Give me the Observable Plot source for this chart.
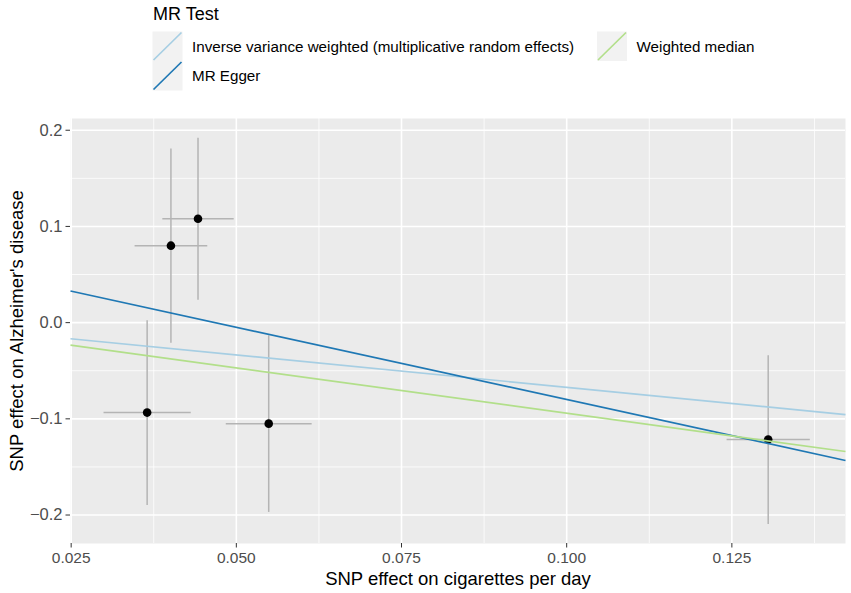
<!DOCTYPE html>
<html>
<head>
<meta charset="utf-8">
<script src="https://cdn.jsdelivr.net/npm/d3@7"></script>
<script src="https://cdn.jsdelivr.net/npm/@observablehq/plot@0.6"></script>
<style>
  html, body { margin: 0; padding: 0; background: #fff; }
  #chart { width: 851px; height: 593px; position: relative; font-family: "Liberation Sans", Arial, sans-serif; }
  #chart svg { display: block; }
</style>
</head>
<body>
<div id="chart"></div>
<script>
// ---- data ----
const snpX   = [0.0365, 0.0401, 0.0442, 0.0549, 0.1305];
const snpY   = [-0.0935, 0.0800, 0.1080, -0.1050, -0.1215];
const snpXse = [0.0066, 0.0055, 0.0054, 0.0065, 0.0063];
const snpYse = [0.0960, 0.1010, 0.0843, 0.0918, 0.0877];

const methods    = ["Inverse variance weighted (multiplicative random effects)", "MR Egger", "Weighted median"];
const slopes     = [-0.672, -1.502, -0.942];
const intercepts = [0, 0.0703, 0];
const methodColors = ["#a6cee3", "#1f78b4", "#b2df8a"];

const xTicks = [0.025, 0.050, 0.075, 0.100, 0.125];
const xMinor = [0.0375, 0.0625, 0.0875, 0.1125, 0.1375];
const yTicks = [-0.2, -0.1, 0.0, 0.1, 0.2];
const yMinor = [-0.15, -0.05, 0.05, 0.15];
const xDomain = [0.0249, 0.1422];
const yDomain = [-0.2296, 0.2122];

const xTitle = "SNP effect on cigarettes per day";
const yTitle = "SNP effect on Alzheimer's disease";
const legendTitle = "MR Test";

// ---- tables ----
const points = snpX.map((x, i) => ({x, y: snpY[i], xse: snpXse[i], yse: snpYse[i]}));
const lineRows = methods.map((m, i) => ({
  method: m,
  x1: xDomain[0], x2: xDomain[1],
  y1: intercepts[i] + slopes[i] * xDomain[0],
  y2: intercepts[i] + slopes[i] * xDomain[1],
  color: methodColors[i]
}));

const root = document.getElementById("chart");
const FONT = '"Liberation Sans", Arial, sans-serif';
const fmtX = d3.format(".3f");
const fmtY = d3.format(".1f");

// ---- legend (above the plot) ----
const leg = d3.create("svg").attr("width", 851).attr("height", 100)
  .style("font-family", FONT);
leg.append("text").attr("x", 153).attr("y", 20).attr("font-size", 18)
  .attr("fill", "black").text(legendTitle);
const keyPos = [[152.5, 31.5], [152.5, 61], [597, 31.5]];
const keyW = 30, keyH = 29.5;
methods.forEach((m, i) => {
  const [kx, ky] = keyPos[i];
  leg.append("rect").attr("x", kx).attr("y", ky).attr("width", keyW).attr("height", keyH)
    .attr("fill", "#f2f2f2");
  leg.append("line").attr("x1", kx + 1).attr("y1", ky + keyH - 1)
    .attr("x2", kx + keyW - 1).attr("y2", ky + 1)
    .attr("stroke", methodColors[i]).attr("stroke-width", 1.7);
  leg.append("text").attr("x", kx + keyW + 9.5).attr("y", ky + keyH / 2)
    .attr("dy", "0.35em").attr("font-size", 15.2).attr("fill", "black").text(m);
});
root.appendChild(leg.node());

// ---- plot ----
const plot = Plot.plot({
  width: 851,
  height: 493,
  marginTop: 18,
  marginBottom: 50,
  marginLeft: 70,
  marginRight: 6,
  style: {fontFamily: FONT, background: "white", overflow: "visible"},
  x: {domain: xDomain},
  y: {domain: yDomain},
  marks: [
    Plot.frame({fill: "#ebebeb", stroke: null}),
    Plot.ruleX(xMinor, {stroke: "white", strokeWidth: 0.8}),
    Plot.ruleY(yMinor, {stroke: "white", strokeWidth: 0.8}),
    Plot.ruleX(xTicks, {stroke: "white", strokeWidth: 1.6}),
    Plot.ruleY(yTicks, {stroke: "white", strokeWidth: 1.6}),
    Plot.link(points, {x1: "x", x2: "x", y1: d => d.y - d.yse, y2: d => d.y + d.yse,
      stroke: "#b4b4b4", strokeWidth: 1.5}),
    Plot.link(points, {x1: d => d.x - d.xse, x2: d => d.x + d.xse, y1: "y", y2: "y",
      stroke: "#b4b4b4", strokeWidth: 1.5}),
    Plot.dot(points, {x: "x", y: "y", r: 4.3, fill: "black", stroke: null}),
    Plot.link(lineRows, {x1: "x1", y1: "y1", x2: "x2", y2: "y2", stroke: "color", strokeWidth: 1.7}),
    Plot.axisX(xTicks, {tickSize: 4.5, tickPadding: 4, tickFormat: fmtX,
      fontSize: 15.5, fill: "#4d4d4d", stroke: "#333", label: null}),
    Plot.axisY(yTicks, {tickSize: 4.5, tickPadding: 3.5, tickFormat: fmtY,
      fontSize: 16.5, fill: "#4d4d4d", stroke: "#333", label: null}),
    Plot.text([xTitle], {frameAnchor: "bottom", dy: 35.3, text: d => d,
      textAnchor: "middle", lineAnchor: "middle", fontSize: 18.5, fill: "black"}),
    Plot.text([yTitle], {frameAnchor: "left", rotate: -90, dx: -53.5, text: d => d,
      textAnchor: "middle", lineAnchor: "middle", fontSize: 18.5, fill: "black"})
  ]
});
root.appendChild(plot);
</script>
</body>
</html>
